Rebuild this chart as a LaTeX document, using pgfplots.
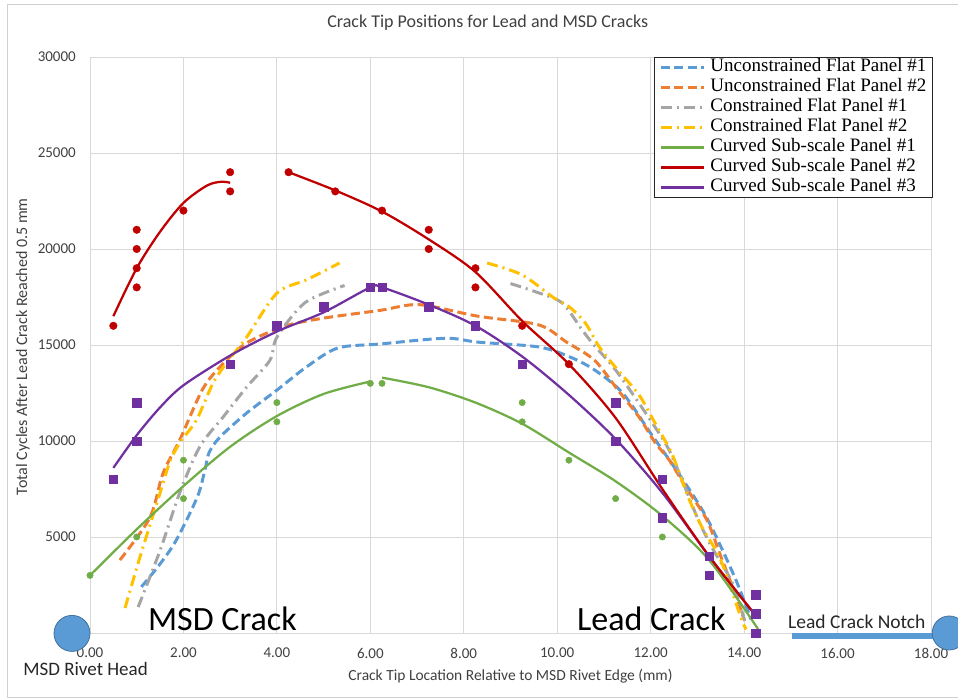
\documentclass[border=0pt]{standalone}
\usepackage{fontspec}
\setmainfont{Carlito}
\newfontfamily\legendfont{Liberation Serif}
\usepackage{pgfplots}
\pgfplotsset{compat=1.18}
\definecolor{cBlue}{HTML}{5B9BD5}
\definecolor{cBlueDark}{HTML}{41719C}
\definecolor{cOrange}{HTML}{ED7D31}
\definecolor{cGray}{HTML}{A5A5A5}
\definecolor{cYellow}{HTML}{FFC000}
\definecolor{cGreen}{HTML}{70AD47}
\definecolor{cRed}{HTML}{C00000}
\definecolor{cPurple}{HTML}{7030A0}
\definecolor{gridC}{HTML}{D9D9D9}
\definecolor{txtC}{HTML}{404040}
\definecolor{frameC}{HTML}{D0D0D0}
\begin{document}
\begin{tikzpicture}
\begin{axis}[
  name=main,
  scale only axis, width=841pt, height=576pt,
  xmin=0, xmax=18, ymin=0, ymax=30000,
  xtick={0,2,...,18}, ytick={5000,10000,...,30000},
  scaled y ticks=false, scaled x ticks=false,
  grid=major, major grid style={color=gridC, line width=0.8pt},
  axis line style={color=gridC, line width=0.8pt},
  major tick length=0pt,
  /pgf/number format/assume math mode=true,
  xticklabel={\pgfmathprintnumber[fixed,fixed zerofill,precision=2]{\tick}},
  yticklabel style={/pgf/number format/1000 sep={}, anchor=east, inner sep=0pt, xshift=-14pt},
  xticklabel style={anchor=north, inner sep=0pt, yshift=-15pt},
  tick label style={font=\fontsize{15}{18}\selectfont, text=txtC},
  title={Crack Tip Positions for Lead and MSD Cracks},
  title style={at={(axis description cs:0.473,1)}, anchor=base, yshift=23pt, font=\fontsize{18}{21}\selectfont, text=txtC},
  xlabel={Crack Tip Location Relative to MSD Rivet Edge (mm)},
  xlabel style={at={(axis description cs:0.5,0)}, anchor=base, yshift=-48pt, font=\fontsize{15.5}{18}\selectfont, text=txtC},
  ylabel={Total Cycles After Lead Crack Reached 0.5 mm},
  ylabel style={at={(axis description cs:-0.0749,0.497)}, anchor=base, font=\fontsize{16}{18}\selectfont, text=txtC},
  legend cell align=left,
  legend style={at={(axis description cs:0.6706,1)}, anchor=north west, draw=black!85, line width=1pt, fill=white,
    inner xsep=5pt, inner ysep=0pt, row sep=0pt,
    font=\legendfont\fontsize{19}{20}\selectfont,
    nodes={inner sep=1pt, text height=13.5pt, text depth=4.5pt},
    /tikz/every odd column/.append style={column sep=4pt}},
  legend image code/.code={\draw[#1] (0pt,0pt) -- (43pt,0pt);},
]
% --- main fitted lines (legend order) ---
\addplot[cBlue, line width=3pt, dash pattern=on 9pt off 4.5pt, smooth] coordinates {
 (1.1,2400) (1.5,3600) (1.85,4850) (2.3,7100) (2.46,8500) (2.55,9400) (2.78,10200) (3.35,11450)
 (4.0,12650) (4.63,13850) (5.3,14840) (6.2,15050) (7.6,15350) (8.3,15150) (9.6,14900)
 (10.25,14400) (10.8,13700) (11.4,12500) (12.0,10400) (12.6,8300) (13.2,6000) (13.8,2900) (14.15,700)};
\addlegendentry{Unconstrained Flat Panel \#1}
\addplot[cOrange, line width=3pt, dash pattern=on 9pt off 4.5pt, smooth] coordinates {
 (0.64,3800) (1.28,6000) (1.56,8300) (1.92,10050) (2.4,12650) (2.78,13850) (3.35,15100) (4.2,16000)
 (5.0,16400) (6.2,16800) (7.05,17100) (8.3,16500) (9.6,16050) (10.2,15150) (10.8,14200)
 (11.3,12650) (11.75,11250) (12.1,9900) (12.4,9000) (12.75,7600) (13.2,5900) (13.5,4000) (13.8,2100) (14.0,700)};
\addlegendentry{Unconstrained Flat Panel \#2}
\addplot[cGray, line width=3pt, dash pattern=on 11pt off 5pt on 2pt off 5pt, smooth] coordinates {
 (1.03,1350) (1.5,4300) (1.92,7300) (2.35,9700) (2.85,11250) (3.35,12800) (3.85,14200) (4.0,15400)
 (4.6,17200) (5.45,18100)};
\addlegendentry{Constrained Flat Panel \#1}
\addplot[cYellow, line width=3pt, dash pattern=on 11pt off 5pt on 2pt off 5pt, smooth] coordinates {
 (0.75,1300) (1.07,3960) (1.45,6900) (1.7,8850) (1.92,9900) (2.28,11100) (2.63,13000) (2.92,14060)
 (3.35,15400) (4.0,17700) (4.64,18400) (5.34,19270)};
\addlegendentry{Constrained Flat Panel \#2}
\addplot[cGreen, line width=2.25pt, smooth] coordinates {
 (0,3000) (1,5400) (2,7650) (3,9700) (4,11300) (5,12450) (6,13100)};
\addlegendentry{Curved Sub-scale Panel \#1}
\addplot[cRed, line width=2.25pt, smooth] coordinates {
 (0.5,16500) (1.0,19000) (1.5,20900) (2.0,22400) (2.5,23300) (2.8,23500) (3.0,23450)};
\addlegendentry{Curved Sub-scale Panel \#2}
\addplot[cPurple, line width=2.25pt, smooth] coordinates {
 (0.5,8600) (1.0,10300) (1.5,11750) (2.0,12900) (3.0,14450) (4.0,15700) (5.0,16700) (6.0,18000)
 (6.25,18000) (7.25,17100) (8.25,16000) (9.25,14400) (10.25,12400) (11.25,10100) (12.25,7300)
 (13.25,4000) (14.25,900)};
\addlegendentry{Curved Sub-scale Panel \#3}
% --- second segments ---
\addplot[cGray, line width=3pt, dash pattern=on 11pt off 5pt on 2pt off 5pt, smooth, forget plot] coordinates {
 (9.0,18200) (9.55,17760) (10.1,17200) (10.5,15900) (10.75,15100) (11.2,13850) (11.6,12500)
 (12.1,10700) (12.4,9500) (12.7,7800) (13.0,6000) (13.3,4500) (13.75,2600) (14.04,400)};
\addplot[cYellow, line width=3pt, dash pattern=on 11pt off 5pt on 2pt off 5pt, smooth, forget plot] coordinates {
 (8.5,19270) (9.25,18650) (9.9,17500) (10.25,17000) (10.6,16150) (10.9,14900) (11.26,13800)
 (11.75,12400) (12.1,10900) (12.46,9300) (12.8,7100) (13.1,5500) (13.5,3800) (13.95,680) (14.05,200)};
\addplot[cGreen, line width=2.25pt, smooth, forget plot] coordinates {
 (6.25,13300) (7.25,12800) (8.25,12000) (9.25,10900) (10.25,9400) (11.25,7900) (12.25,6100)
 (13.25,3800) (14.3,200)};
\addplot[cRed, line width=2.25pt, smooth, forget plot] coordinates {
 (4.25,24000) (5.25,23050) (6.25,21950) (7.25,20500) (8.25,18800) (9.25,16250) (10.25,14000)
 (11.25,11200) (12.25,7500) (13.25,4000) (14.25,900)};
% --- markers ---
\addplot[only marks, mark=*, mark size=3.2pt, color=cGreen, forget plot] coordinates {
 (0,3000) (1,5000) (2,9000) (2,7000) (4,12000) (4,11000) (6,13000) (6.25,13000)
 (9.25,12000) (9.25,11000) (10.25,9000) (11.25,7000) (12.25,5000)};
\addplot[only marks, mark=*, mark size=3.8pt, color=cRed, forget plot] coordinates {
 (0.5,16000) (1,21000) (1,20000) (1,19000) (1,18000) (2,22000) (3,24000) (3,23000)
 (4.25,24000) (5.25,23000) (6.25,22000) (7.25,21000) (7.25,20000) (8.25,19000) (8.25,18000)
 (9.25,16000) (10.25,14000)};
\addplot[only marks, mark=square*, mark size=4.2pt, color=cPurple, forget plot] coordinates {
 (0.5,8000) (1,12000) (1,10000) (3,14000) (4,16000) (5,17000) (6,18000) (6.25,18000)
 (7.25,17000) (8.25,16000) (9.25,14000) (11.25,12000) (11.25,10000) (12.25,8000) (12.25,6000)
 (13.25,4000) (13.25,3000) (14.25,2000) (14.25,1000) (14.25,0)};
\end{axis}
\begin{axis}[
  at={(main.south west)}, anchor=south west,
  scale only axis, width=841pt, height=576pt,
  xmin=0, xmax=18, ymin=0, ymax=30000,
  hide axis, clip=false,
]
\addplot[cBlue, line width=6pt] coordinates {(15.03,-160) (18.39,-160)};
\addplot[only marks, mark=*, mark size=18pt, mark options={fill=cBlue, draw=cBlueDark, line width=0.8pt}] coordinates {(-0.385,-20)};
\addplot[only marks, mark=*, mark size=17pt, mark options={fill=cBlue, draw=cBlueDark, line width=0.8pt}] coordinates {(18.39,0)};
\node[anchor=base west, inner sep=0pt, font=\fontsize{34}{40}\selectfont] at (axis cs:1.24,150) {MSD Crack};
\node[anchor=base west, inner sep=0pt, font=\fontsize{34}{40}\selectfont] at (axis cs:10.42,150) {Lead Crack};
\node[anchor=base west, inner sep=0pt, font=\fontsize{19.5}{22}\selectfont, text=black!85] at (axis cs:14.94,260) {Lead Crack Notch};
\node[anchor=base west, inner sep=0pt, font=\fontsize{19}{22}\selectfont, text=black!85] at (axis cs:-1.43,-2190) {MSD Rivet Head};
\end{axis}
\draw[color=frameC, line width=0.8pt] ([shift={(-83pt,-64pt)}]main.south west) rectangle ([shift={(40pt,53pt)}]main.north east);
\pgfresetboundingbox
\path[use as bounding box] ([shift={(-90pt,-67pt)}]main.south west) rectangle ([shift={(27pt,57pt)}]main.north east);
\end{tikzpicture}
\end{document}
